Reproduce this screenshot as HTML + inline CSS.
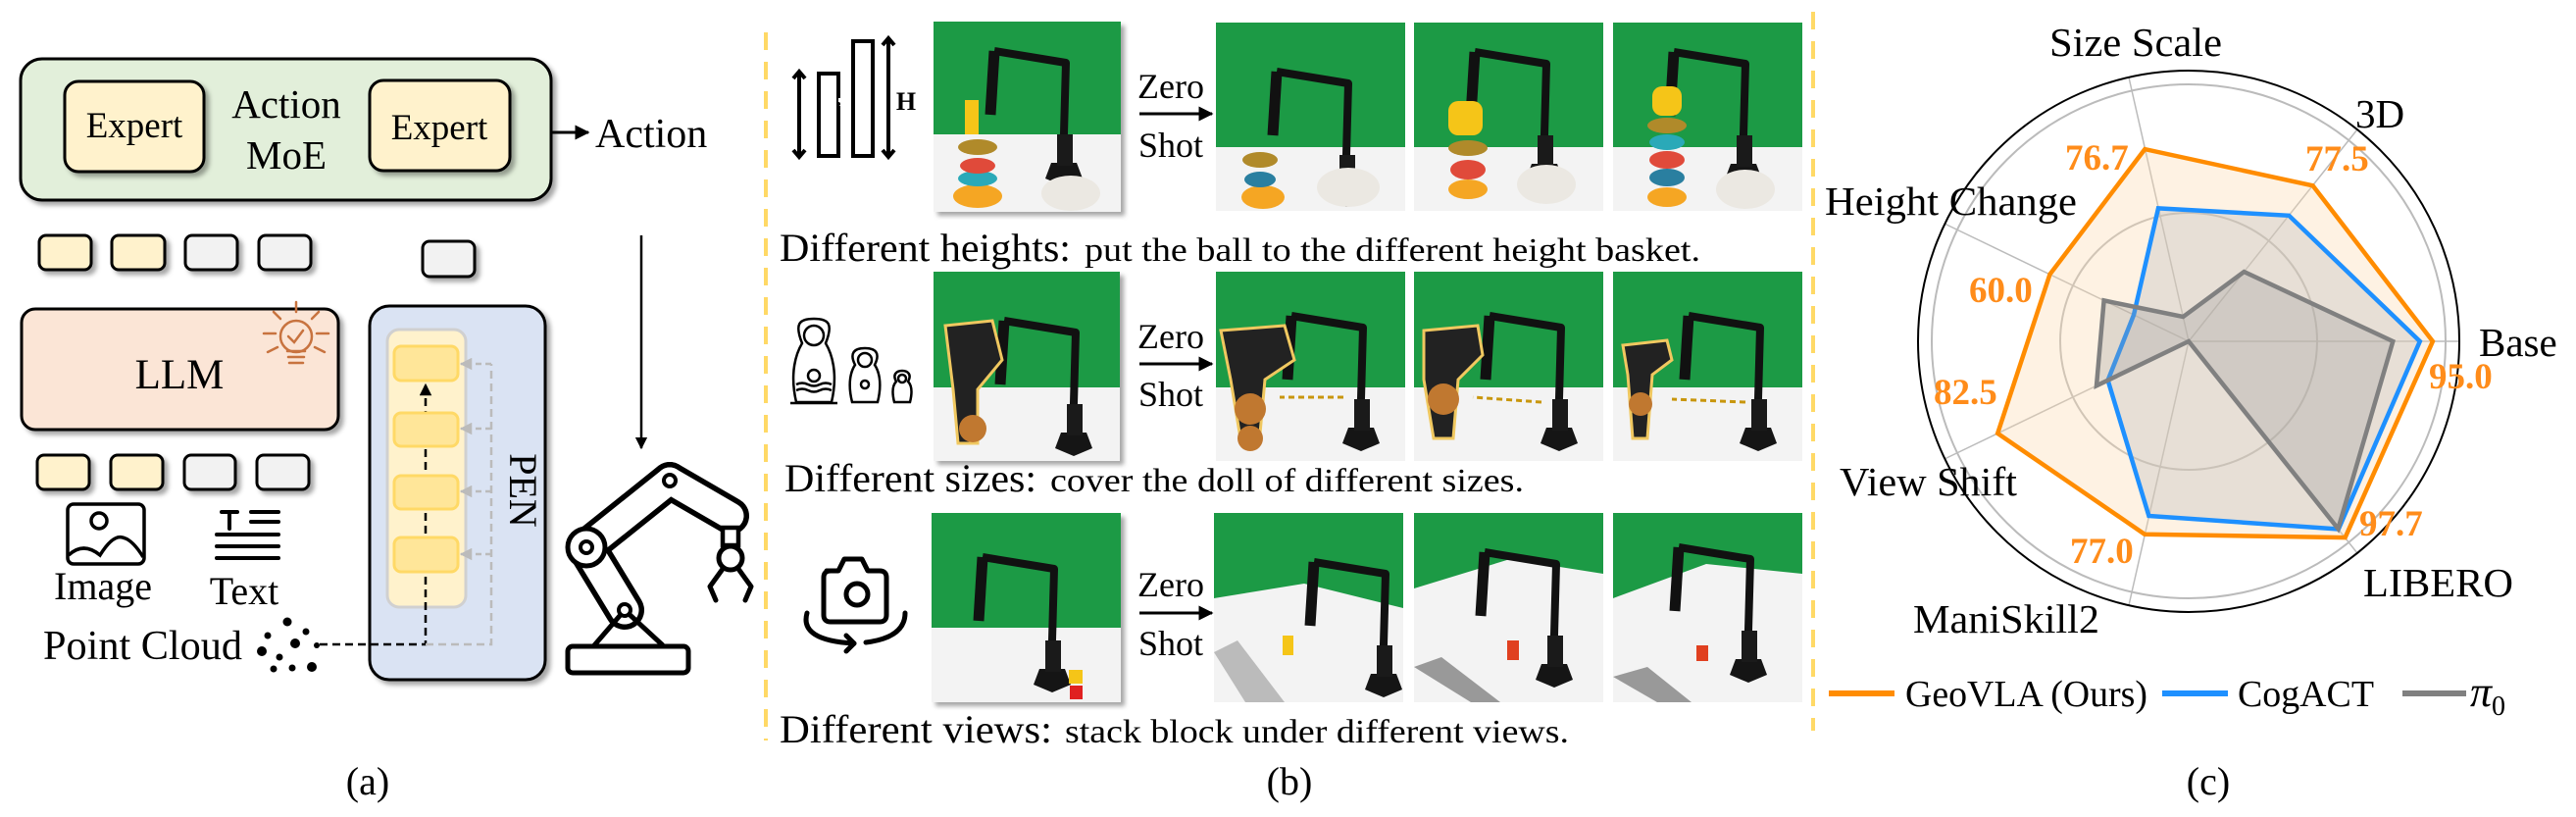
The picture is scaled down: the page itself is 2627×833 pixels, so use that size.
<!DOCTYPE html>
<html><head><meta charset="utf-8"><style>
html,body{margin:0;padding:0;background:#fff;}
svg{display:block;}
text{font-family:"Liberation Serif","DejaVu Serif",serif;}
</style></head><body>
<svg width="2627" height="833" viewBox="0 0 2627 833" xmlns="http://www.w3.org/2000/svg">
<defs>
<filter id="sh" x="-10%" y="-10%" width="130%" height="140%"><feDropShadow dx="4" dy="4" stdDeviation="2.5" flood-color="#000" flood-opacity="0.35"/></filter>
<marker id="ab" viewBox="0 0 10 10" refX="9" refY="5" markerWidth="5" markerHeight="5" orient="auto"><path d="M0,0 L10,5 L0,10 z" fill="#000"/></marker>
<marker id="ag" viewBox="0 0 10 10" refX="9" refY="5" markerWidth="5" markerHeight="5" orient="auto"><path d="M0,0 L10,5 L0,10 z" fill="#bbb"/></marker>
<g id="bot">
  <path d="M132,150 L135,42 L62,30" stroke="#111" stroke-width="8" fill="none" stroke-linejoin="round"/>
  <path d="M62,30 L58,95" stroke="#111" stroke-width="11" fill="none"/>
  <path d="M114,160 L120,144 L146,144 L152,160 L133,168 z" fill="#151515"/>
  <rect x="126" y="115" width="16" height="32" fill="#1a1a1a"/>
</g>
</defs>

<!-- ============ PANEL A ============ -->
<rect x="21" y="60" width="541" height="144" rx="22" fill="#e2efda" stroke="#000" stroke-width="3" filter="url(#sh)"/>
<rect x="66" y="83" width="142" height="92" rx="14" fill="#fff2cc" stroke="#000" stroke-width="3" filter="url(#sh)"/>
<rect x="377" y="82" width="143" height="92" rx="14" fill="#fff2cc" stroke="#000" stroke-width="3" filter="url(#sh)"/>
<text x="137" y="140" font-size="37" text-anchor="middle">Expert</text>
<text x="448" y="142" font-size="37" text-anchor="middle">Expert</text>
<text x="292" y="120" font-size="41" text-anchor="middle">Action</text>
<text x="292" y="172" font-size="41" text-anchor="middle">MoE</text>
<line x1="563" y1="135" x2="600" y2="135" stroke="#000" stroke-width="3" marker-end="url(#ab)"/>
<text x="607" y="150" font-size="42">Action</text>

<g stroke="#000" stroke-width="3" filter="url(#sh)">
<rect x="40" y="240" width="53" height="35" rx="7" fill="#fff2cc"/>
<rect x="114" y="240" width="54" height="35" rx="7" fill="#fff2cc"/>
<rect x="189" y="240" width="53" height="35" rx="7" fill="#f2f2f2"/>
<rect x="264" y="240" width="53" height="35" rx="7" fill="#f2f2f2"/>
<rect x="431" y="246" width="53" height="36" rx="7" fill="#f2f2f2"/>
<rect x="22" y="315" width="323" height="123" rx="14" fill="#fbe5d6"/>
<rect x="38" y="464" width="53" height="35" rx="7" fill="#fff2cc"/>
<rect x="113" y="464" width="53" height="35" rx="7" fill="#fff2cc"/>
<rect x="188" y="464" width="52" height="35" rx="7" fill="#f2f2f2"/>
<rect x="262" y="464" width="53" height="35" rx="7" fill="#f2f2f2"/>
<rect x="377" y="312" width="179" height="381" rx="20" fill="#dae3f3"/>
</g>
<text x="183" y="396" font-size="43" text-anchor="middle">LLM</text>
<g stroke="#c8733f" stroke-width="2.5" fill="none" stroke-linecap="round">
<circle cx="302" cy="343" r="16"/>
<path d="M294,343 l6,6 l9,-12"/>
<path d="M293,358 h18 M294,364 h16 M295,370 h14"/>
<path d="M302,318 v-10 M286,325 l-7,-7 M318,325 l7,-7 M281,340 h-12 M323,340 h12 M283,354 l-10,5 M321,354 l10,5"/>
</g>
<rect x="69" y="514" width="78" height="61" rx="6" fill="#fff" stroke="#000" stroke-width="3.5"/>
<circle cx="101" cy="531" r="8" fill="none" stroke="#000" stroke-width="3.5"/>
<path d="M70,566 Q85,552 102,566 Q115,545 125,548 Q135,550 146,568" fill="none" stroke="#000" stroke-width="3.5"/>
<text x="105" y="611" font-size="40" text-anchor="middle">Image</text>
<g stroke="#000" stroke-width="4" stroke-linecap="round">
<path d="M226,522 h16 M234,522 v17 M256,522 h28 M256,532 h28 M221,545 h63 M221,557 h63 M221,569 h63"/>
</g>
<text x="249" y="616" font-size="40" text-anchor="middle">Text</text>
<text x="44" y="672" font-size="42" textLength="203" lengthAdjust="spacingAndGlyphs">Point Cloud</text>
<g fill="#000">
<circle cx="293" cy="634" r="4.5"/><circle cx="273" cy="648" r="3.5"/><circle cx="312" cy="644" r="3.5"/>
<circle cx="301" cy="656" r="5"/><circle cx="267" cy="664" r="5"/><circle cx="285" cy="670" r="3.5"/>
<circle cx="323" cy="658" r="3"/><circle cx="279" cy="682" r="3.5"/><circle cx="298" cy="681" r="3.5"/><circle cx="318" cy="680" r="5"/>
</g>
<rect x="395" y="336" width="80" height="283" rx="12" fill="#fff2cc" stroke="#d0d0d0" stroke-width="3"/>
<path d="M326,657 H434 V392" fill="none" stroke="#000" stroke-width="2.5" stroke-dasharray="8,5" marker-end="url(#ab)"/>
<path d="M434,657 H501 V371" fill="none" stroke="#bbb" stroke-width="2.5" stroke-dasharray="8,5"/>
<g stroke="#bbb" stroke-width="2.5" stroke-dasharray="6,4" marker-end="url(#ag)">
<line x1="501" y1="371" x2="470" y2="371"/><line x1="501" y1="437" x2="470" y2="437"/>
<line x1="501" y1="501" x2="470" y2="501"/><line x1="501" y1="565" x2="470" y2="565"/>
</g>
<g fill="#ffe699" stroke="#ffd966" stroke-width="3">
<rect x="402" y="353" width="65" height="35" rx="7"/>
<rect x="402" y="421" width="65" height="34" rx="7"/>
<rect x="402" y="485" width="65" height="34" rx="7"/>
<rect x="402" y="548" width="65" height="35" rx="7"/>
</g>
<text transform="translate(520,500) rotate(90)" font-size="40" text-anchor="middle">PEN</text>
<line x1="654" y1="240" x2="654" y2="457" stroke="#000" stroke-width="2.5" marker-end="url(#ab)"/>
<g stroke-linecap="round">
<line x1="598" y1="558" x2="637" y2="622" stroke="#000" stroke-width="40"/>
<line x1="598" y1="558" x2="683" y2="490" stroke="#000" stroke-width="38"/>
<line x1="683" y1="490" x2="745" y2="526" stroke="#000" stroke-width="38"/>
<line x1="598" y1="558" x2="637" y2="622" stroke="#fff" stroke-width="29"/>
<line x1="598" y1="558" x2="683" y2="490" stroke="#fff" stroke-width="27"/>
<line x1="683" y1="490" x2="745" y2="526" stroke="#fff" stroke-width="27"/>
</g>
<path d="M606,658 L637,622 L676,658" fill="none" stroke="#000" stroke-width="5"/>
<rect x="579" y="659" width="123" height="27" rx="5" fill="#fff" stroke="#000" stroke-width="5"/>
<circle cx="598" cy="558" r="19" fill="#fff" stroke="#000" stroke-width="5"/>
<circle cx="598" cy="558" r="6" fill="#fff" stroke="#000" stroke-width="4"/>
<circle cx="637" cy="622" r="6" fill="#fff" stroke="#000" stroke-width="4"/>
<circle cx="683" cy="490" r="6" fill="#fff" stroke="#000" stroke-width="4"/>
<rect x="737" y="538" width="16" height="18" fill="#fff" stroke="#000" stroke-width="4.5"/>
<circle cx="745" cy="569" r="12" fill="#fff" stroke="#000" stroke-width="5"/>
<path d="M737,580 L724,598 L730,612 M753,580 L766,598 L760,612" fill="none" stroke="#000" stroke-width="5" stroke-linecap="round" stroke-linejoin="round"/>
<text x="375" y="810" font-size="40" text-anchor="middle">(a)</text>

<line x1="781" y1="33" x2="781" y2="755" stroke="#ffd966" stroke-width="4" stroke-dasharray="18,12"/>
<line x1="1849" y1="12" x2="1849" y2="745" stroke="#ffd966" stroke-width="4" stroke-dasharray="18,12"/>

<!-- ============ PANEL B ============ -->
<g stroke="#000" stroke-width="4" fill="none">
<rect x="835" y="75" width="20" height="84"/>
<rect x="870" y="42" width="20" height="117"/>
<path d="M815,74 V159 M809,80 l6,-7 l6,7 M809,153 l6,7 l6,-7"/>
<path d="M906,40 V159 M900,46 l6,-7 l6,7 M900,153 l6,7 l6,-7"/>
</g>
<rect x="855" y="100" width="4" height="8" fill="#fff"/>
<circle cx="855" cy="106" r="2" fill="#000"/>
<text x="924" y="112" font-size="26" font-weight="bold" font-family="Liberation Sans" text-anchor="middle">H</text>
<g fill="none" stroke="#000" stroke-width="2.5">
<path d="M812,410 C805,380 812,360 818,350 C810,330 815,325 830,325 C845,325 850,330 842,350 C848,360 855,380 848,410 Z"/>
<circle cx="830" cy="342" r="10"/><circle cx="830" cy="383" r="6"/>
<path d="M812,392 q6,-3 12,0 t12,0 t12,0 M812,398 q6,-3 12,0 t12,0 t12,0"/>
<path d="M806,411 h48"/>
<path d="M869,410 C864,390 868,378 872,372 C866,360 871,355 882,355 C893,355 898,360 892,372 C896,378 900,390 895,410 Z"/>
<circle cx="882" cy="367" r="7"/><circle cx="882" cy="392" r="4"/>
<path d="M912,410 C909,398 911,392 914,389 C910,382 914,378 920,378 C926,378 930,382 926,389 C929,392 931,398 928,410 Z"/>
<circle cx="920" cy="386" r="4"/>
</g>
<g fill="none" stroke="#000" stroke-width="5" stroke-linecap="round" stroke-linejoin="round">
<path d="M843,582 h12 l6,-12 h18 l6,12 h12 q7,0 7,7 v38 q0,7 -7,7 h-50 q-7,0 -7,-7 v-38 q0,-7 7,-7 z"/>
<circle cx="874" cy="606" r="11"/>
<path d="M823,625 q-8,28 48,31"/>
<path d="M883,655 q40,-5 40,-30"/>
<path d="M863,648 l8,8 l-8,8"/>
</g>

<g>
<rect x="952" y="22" width="191" height="194" fill="#1c9a45" filter="url(#sh)"/>
<rect x="952" y="137" width="191" height="79" fill="#f3f3f3"/>
<g transform="translate(952,22)"><use href="#bot"/>
<ellipse cx="45" cy="178" rx="25" ry="12" fill="#f5a623"/><ellipse cx="45" cy="160" rx="20" ry="8" fill="#2aa9b8"/>
<ellipse cx="45" cy="147" rx="18" ry="8" fill="#e04a3a"/><ellipse cx="45" cy="128" rx="20" ry="8" fill="#b08a2a"/>
<rect x="32" y="80" width="14" height="35" fill="#f5c518"/><ellipse cx="140" cy="175" rx="30" ry="18" fill="#ebe8e2"/></g>
</g>
<g>
<rect x="1240" y="23" width="193" height="192" fill="#1c9a45"/><rect x="1240" y="150" width="193" height="65" fill="#f3f3f3"/>
<g transform="translate(1240,23)"><g transform="translate(0,20)"><use href="#bot"/></g>
<ellipse cx="48" cy="178" rx="22" ry="12" fill="#f5a623"/><ellipse cx="45" cy="160" rx="16" ry="8" fill="#2a7fa0"/>
<ellipse cx="45" cy="140" rx="18" ry="8" fill="#b08a2a"/><ellipse cx="135" cy="168" rx="32" ry="20" fill="#ebe8e2"/></g>
</g>
<g>
<rect x="1442" y="23" width="193" height="192" fill="#1c9a45"/><rect x="1442" y="150" width="193" height="65" fill="#f3f3f3"/>
<g transform="translate(1442,23)"><use href="#bot"/>
<ellipse cx="55" cy="170" rx="20" ry="10" fill="#f5a623"/><ellipse cx="55" cy="150" rx="18" ry="10" fill="#e04a3a"/>
<ellipse cx="55" cy="128" rx="20" ry="8" fill="#b08a2a"/><rect x="35" y="80" width="35" height="35" rx="10" fill="#f5c518"/>
<ellipse cx="135" cy="165" rx="30" ry="20" fill="#ebe8e2"/></g>
</g>
<g>
<rect x="1645" y="23" width="193" height="192" fill="#1c9a45"/><rect x="1645" y="150" width="193" height="65" fill="#f3f3f3"/>
<g transform="translate(1645,23)"><use href="#bot"/>
<ellipse cx="55" cy="178" rx="20" ry="10" fill="#f5a623"/><ellipse cx="55" cy="158" rx="18" ry="9" fill="#2a7fa0"/>
<ellipse cx="55" cy="140" rx="18" ry="9" fill="#e04a3a"/><ellipse cx="55" cy="122" rx="18" ry="8" fill="#2aa9b8"/>
<ellipse cx="55" cy="105" rx="20" ry="8" fill="#b08a2a"/><rect x="40" y="65" width="30" height="30" rx="10" fill="#f5c518"/>
<ellipse cx="135" cy="170" rx="30" ry="20" fill="#ebe8e2"/></g>
</g>
<g>
<rect x="952" y="277" width="190" height="193" fill="#1c9a45" filter="url(#sh)"/><rect x="952" y="395" width="190" height="75" fill="#f3f3f3"/>
<g transform="translate(952,277)"><g transform="translate(10,20)"><use href="#bot"/></g>
<path d="M12,55 L60,50 L70,90 L45,120 L45,175 L25,175 L20,120 Z" fill="#222" stroke="#f0c860" stroke-width="3"/>
<circle cx="40" cy="160" r="14" fill="#c07830"/></g>
</g>
<g>
<rect x="1240" y="277" width="193" height="193" fill="#1c9a45"/><rect x="1240" y="395" width="193" height="75" fill="#f3f3f3"/>
<g transform="translate(1240,277)"><g transform="translate(15,15)"><use href="#bot"/></g>
<path d="M5,60 L70,55 L80,90 L50,110 L45,165 L25,170 L15,110 Z" fill="#222" stroke="#f0c860" stroke-width="3"/>
<circle cx="35" cy="140" r="16" fill="#c07830"/><circle cx="35" cy="170" r="13" fill="#c07830"/>
<line x1="130" y1="128" x2="65" y2="128" stroke="#c8960c" stroke-width="3" stroke-dasharray="6,4"/></g>
</g>
<g>
<rect x="1442" y="277" width="193" height="193" fill="#1c9a45"/><rect x="1442" y="395" width="193" height="75" fill="#f3f3f3"/>
<g transform="translate(1442,277)"><g transform="translate(15,15)"><use href="#bot"/></g>
<path d="M10,60 L65,55 L70,85 L45,110 L40,170 L20,170 L10,110 Z" fill="#222" stroke="#f0c860" stroke-width="3"/>
<circle cx="30" cy="130" r="16" fill="#c07830"/>
<line x1="130" y1="133" x2="60" y2="128" stroke="#c8960c" stroke-width="3" stroke-dasharray="6,4"/></g>
</g>
<g>
<rect x="1645" y="277" width="193" height="193" fill="#1c9a45"/><rect x="1645" y="395" width="193" height="75" fill="#f3f3f3"/>
<g transform="translate(1645,277)"><g transform="translate(15,15)"><use href="#bot"/></g>
<path d="M10,75 L55,70 L60,90 L40,105 L35,170 L20,170 L15,105 Z" fill="#222" stroke="#f0c860" stroke-width="3"/>
<circle cx="28" cy="135" r="12" fill="#c07830"/>
<line x1="135" y1="133" x2="60" y2="130" stroke="#c8960c" stroke-width="3" stroke-dasharray="6,4"/></g>
</g>
<g>
<rect x="950" y="523" width="193" height="193" fill="#1c9a45" filter="url(#sh)"/><rect x="950" y="640" width="193" height="76" fill="#f3f3f3"/>
<g transform="translate(950,523)"><g transform="translate(-10,15)"><use href="#bot"/></g>
<rect x="140" y="160" width="14" height="14" fill="#f5c518"/><rect x="141" y="176" width="13" height="14" fill="#e02020"/></g>
</g>
<g>
<rect x="1238" y="523" width="193" height="193" fill="#1c9a45"/><path d="M1238,610 L1330,595 L1431,620 L1431,716 L1238,716 Z" fill="#f3f3f3"/>
<path d="M1238,665 L1262,653 L1310,716 L1270,716 Z" fill="#bbb"/>
<g transform="translate(1238,523)"><g transform="translate(40,20)"><use href="#bot"/></g>
<rect x="70" y="125" width="11" height="20" fill="#f5c518"/></g>
</g>
<g>
<rect x="1442" y="523" width="193" height="193" fill="#1c9a45"/><path d="M1442,600 L1540,570 L1635,585 L1635,716 L1442,716 Z" fill="#f3f3f3"/>
<path d="M1442,680 L1470,670 L1530,716 L1500,716 Z" fill="#999"/>
<g transform="translate(1442,523)"><g transform="translate(10,10)"><use href="#bot"/></g>
<rect x="95" y="130" width="12" height="20" fill="#e04020"/></g>
</g>
<g>
<rect x="1645" y="523" width="193" height="193" fill="#1c9a45"/><path d="M1645,610 L1740,575 L1838,585 L1838,716 L1645,716 Z" fill="#f3f3f3"/>
<path d="M1645,690 L1680,680 L1725,716 L1690,716 Z" fill="#999"/>
<g transform="translate(1645,523)"><g transform="translate(5,5)"><use href="#bot"/></g>
<rect x="85" y="135" width="12" height="16" fill="#e04020"/></g>
</g>
<g font-size="36" text-anchor="middle">
<text x="1194" y="100">Zero</text><text x="1194" y="160">Shot</text>
<text x="1194" y="355">Zero</text><text x="1194" y="414">Shot</text>
<text x="1194" y="608">Zero</text><text x="1194" y="668">Shot</text>
</g>
<g stroke="#000" stroke-width="3" marker-end="url(#ab)">
<line x1="1162" y1="116" x2="1236" y2="116"/><line x1="1162" y1="371" x2="1236" y2="371"/><line x1="1162" y1="625" x2="1236" y2="625"/>
</g>
<text x="795" y="266" font-size="40" textLength="297" lengthAdjust="spacingAndGlyphs">Different heights:</text>
<text x="1106" y="266" font-size="34" textLength="628" lengthAdjust="spacingAndGlyphs">put the ball to the different height basket.</text>
<text x="800" y="501" font-size="40" textLength="257" lengthAdjust="spacingAndGlyphs">Different sizes:</text>
<text x="1071" y="501" font-size="34" textLength="483" lengthAdjust="spacingAndGlyphs">cover the doll of different sizes.</text>
<text x="795" y="757" font-size="40" textLength="278" lengthAdjust="spacingAndGlyphs">Different views:</text>
<text x="1086" y="757" font-size="34" textLength="514" lengthAdjust="spacingAndGlyphs">stack block under different views.</text>
<text x="1315" y="810" font-size="40" text-anchor="middle">(b)</text>

<!-- ============ PANEL C ============ -->
<circle cx="2232" cy="348" r="131" fill="none" stroke="#bbb" stroke-width="2"/>
<circle cx="2232" cy="348" r="262" fill="none" stroke="#bbb" stroke-width="2"/>
<g stroke="#bbb" stroke-width="1.5">
<line x1="2232" y1="348" x2="2508" y2="348"/><line x1="2232" y1="348" x2="2404" y2="132"/>
<line x1="2232" y1="348" x2="2171" y2="79"/><line x1="2232" y1="348" x2="1983" y2="228"/>
<line x1="2232" y1="348" x2="1983" y2="468"/><line x1="2232" y1="348" x2="2171" y2="617"/>
<line x1="2232" y1="348" x2="2404" y2="564"/>
</g>
<polygon points="2480.9,348 2358.6,189.3 2187.3,152.1 2090.4,279.8 2037.2,441.8 2187.1,544.7 2391.6,548.1" fill="#fbd9b0" fill-opacity="0.35" stroke="#ff8c00" stroke-width="4.5"/>
<polygon points="2467.8,348 2334.3,219.8 2201,212.4 2176,321.1 2149.6,387.7 2191.4,526 2384.8,539.5" fill="#bdbdbd" fill-opacity="0.35" stroke="#1e90ff" stroke-width="4.5"/>
<polygon points="2440.3,348 2288.5,277.1 2226.3,323 2145.6,306.4 2138,393.3 2232,348 2384.4,539.1" fill="#9a9a9a" fill-opacity="0.3" stroke="#808080" stroke-width="4.5"/>
<circle cx="2232" cy="348" r="276" fill="none" stroke="#000" stroke-width="2"/>
<g font-size="41">
<text x="2090" y="57" textLength="176" lengthAdjust="spacingAndGlyphs">Size Scale</text>
<text x="2402" y="130">3D</text>
<text x="1861" y="219" textLength="257" lengthAdjust="spacingAndGlyphs">Height Change</text>
<text x="2528" y="363">Base</text>
<text x="1876" y="505" textLength="181" lengthAdjust="spacingAndGlyphs">View Shift</text>
<text x="1951" y="645" textLength="190" lengthAdjust="spacingAndGlyphs">ManiSkill2</text>
<text x="2410" y="608" textLength="153" lengthAdjust="spacingAndGlyphs">LIBERO</text>
</g>
<g font-size="37" font-weight="bold" fill="#ff8c1a">
<text x="2106" y="173">76.7</text><text x="2351" y="174">77.5</text>
<text x="2008" y="308">60.0</text><text x="2477" y="396">95.0</text>
<text x="1972" y="412">82.5</text><text x="2406" y="546">97.7</text>
<text x="2111" y="574">77.0</text>
</g>
<line x1="1865" y1="707" x2="1932" y2="707" stroke="#ff8c00" stroke-width="6"/>
<text x="1943" y="720" font-size="38" textLength="247" lengthAdjust="spacingAndGlyphs">GeoVLA (Ours)</text>
<line x1="2205" y1="707" x2="2272" y2="707" stroke="#1e90ff" stroke-width="6"/>
<text x="2282" y="720" font-size="38" textLength="139" lengthAdjust="spacingAndGlyphs">CogACT</text>
<line x1="2450" y1="707" x2="2515" y2="707" stroke="#808080" stroke-width="6"/>
<text x="2519" y="720" font-size="44" font-style="italic">π<tspan font-size="28" font-style="normal" dy="9">0</tspan></text>
<text x="2252" y="810" font-size="40" text-anchor="middle">(c)</text>
</svg>
</body></html>
